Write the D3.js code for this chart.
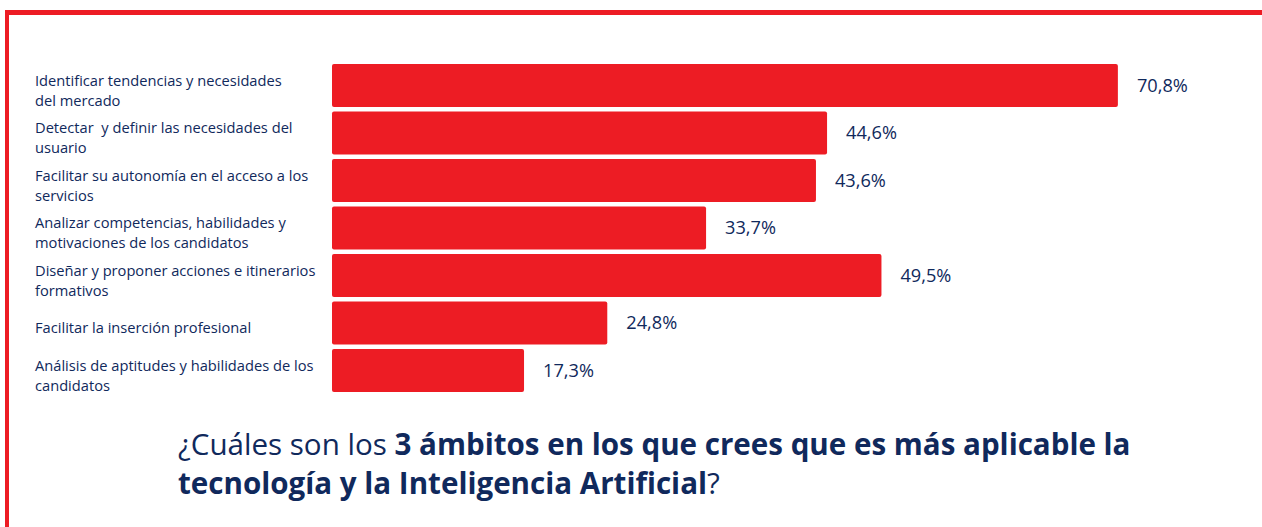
<!DOCTYPE html>
<html><head><meta charset="utf-8">
<script src="https://cdn.jsdelivr.net/npm/d3@7"></script>
<style>html,body{margin:0;padding:0;background:#fff;}svg{display:block;}text{white-space:pre;}</style>
</head><body>
<script>
const categories = [
  ["Identificar tendencias y necesidades", "del mercado"],
  ["Detectar  y definir las necesidades del", "usuario"],
  ["Facilitar su autonomía en el acceso a los", "servicios"],
  ["Analizar competencias, habilidades y", "motivaciones de los candidatos"],
  ["Diseñar y proponer acciones e itinerarios", "formativos"],
  ["Facilitar la inserción profesional"],
  ["Análisis de aptitudes y habilidades de los", "candidatos"]
];
const values = [70.8, 44.6, 43.6, 33.7, 49.5, 24.8, 17.3];
const valueLabels = ["70,8%", "44,6%", "43,6%", "33,7%", "49,5%", "24,8%", "17,3%"];
const titleLine1 = [["¿Cuáles son los ", false], ["3 ámbitos en los que crees que es más aplicable la", true]];
const titleLine2 = [["tecnología y la Inteligencia Artificial", true], ["?", false]];

const W = 1262, H = 527;
const RED = "#ED1C24", NAVY = "#10295c";
const FONT = "'Open Sans', 'Noto Sans', sans-serif";

const svg = d3.select("body").append("svg").attr("width", W).attr("height", H);

// frame
svg.append("rect").attr("x", 5).attr("y", 10).attr("width", W - 5).attr("height", 5).attr("fill", RED);
svg.append("rect").attr("x", 5).attr("y", 10).attr("width", 4).attr("height", H - 10).attr("fill", RED);

const x = d3.scaleLinear().domain([0, 100]).range([332, 332 + 1110]);
const y = d3.scaleBand().domain(d3.range(values.length)).range([64, 392]).paddingInner(0.095).paddingOuter(0);

const g = svg.append("g");
g.selectAll("rect.bar").data(values).join("rect")
  .attr("class", "bar")
  .attr("x", x(0)).attr("y", (d, i) => y(i))
  .attr("width", d => x(d) - x(0)).attr("height", y.bandwidth())
  .attr("rx", 2).attr("fill", RED);

const vals = g.selectAll("text.val").data(values).join("text")
  .attr("class", "val")
  .attr("x", d => x(d) + 19).attr("y", (d, i) => y(i) + y.bandwidth() / 2)
  .attr("dy", "0.35em")
  .attr("font-family", FONT).attr("font-size", 15).attr("font-weight", 500).attr("fill", NAVY)
  .text((d, i) => valueLabels[i]);
const vw = vals.node().getComputedTextLength();
vals.attr("font-size", 15 * 51 / vw);

// category labels
const lab = g.selectAll("text.cat").data(categories).join("text")
  .attr("class", "cat")
  .attr("font-family", FONT).attr("font-size", 13).attr("font-weight", 500).attr("fill", NAVY)
  .attr("transform", (d, i) => `translate(35,${y(i) + y.bandwidth() / 2 + 5})`);
lab.each(function(lines) {
  const t = d3.select(this);
  const n = lines.length;
  lines.forEach((l, j) => {
    t.append("tspan").attr("x", 0)
      .attr("y", (j - (n - 1) / 2) * 20)
      .attr("dy", "0.35em").text(l);
  });
});
const firstSpan = lab.filter((d, i) => i === 0).select("tspan").node();
const w0 = firstSpan.getComputedTextLength();
lab.attr("font-size", 13 * 247 / w0);

// title
function titleLine(parts, yy) {
  const t = svg.append("text").attr("x", 178).attr("y", yy)
    .attr("font-family", FONT).attr("font-size", 26).attr("fill", NAVY);
  parts.forEach(([s, b]) => t.append("tspan").attr("font-weight", b ? 700 : 400).text(s));
  return t;
}
const t1 = titleLine(titleLine1, 455);
const t2 = titleLine(titleLine2, 494);
const tw = t1.node().getComputedTextLength();
const fs = 26 * 953 / tw;
t1.attr("font-size", fs);
t2.attr("font-size", fs);
</script>
</body></html>
